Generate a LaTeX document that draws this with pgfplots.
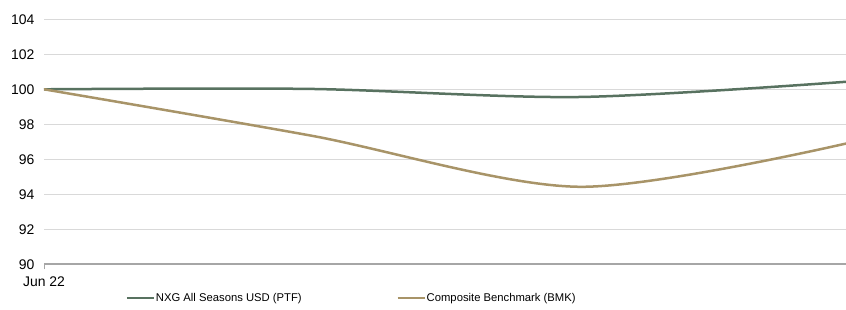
\documentclass[border=0pt]{standalone}
\usepackage{pgfplots}
\pgfplotsset{compat=1.18}
\usepackage{fontspec}
\setmainfont{Liberation Sans}
\definecolor{ptf}{HTML}{587260}
\definecolor{bmk}{HTML}{A89468}
\definecolor{gridc}{HTML}{D9D9D9}
\definecolor{axc}{HTML}{A6A6A6}
\begin{document}
\begin{tikzpicture}[x=1bp,y=1bp]
\begin{axis}[
  at={(44bp,44.7bp)}, anchor=south west,
  scale only axis, width=802bp, height=245bp,
  xmin=0, xmax=3, ymin=90, ymax=104,
  ytick={90,92,...,104},
  xtick={0}, xticklabels={Jun 22},
  tick pos=left, tick align=outside,
  ymajorgrids, grid style={gridc, line width=1bp},
  axis line style={draw=none},
  ytick style={draw=none},
  xtick style={axc, line width=1bp},
  major tick length=5bp,
  y tick label style={font=\fontsize{14}{16}\selectfont, xshift=-1bp},
  x tick label style={font=\fontsize{14}{16}\selectfont, yshift=-4bp},
  /pgf/number format/assume math mode=true,
  legend style={draw=none, fill=none, inner sep=0pt, outer sep=0pt,
    at={(rel axis cs:0.1022,-0.137)}, anchor=west,
    font=\fontsize{11.3}{13}\selectfont,
    nodes={inner xsep=1bp},
    /tikz/every even column/.append style={column sep=94bp}},
  legend columns=2,
  legend cell align=left,
  legend image code/.code={\draw[#1, line width=2bp] (0bp,0bp) -- (27bp,0bp);},
  clip=false,
]
\draw[axc, line width=2bp] (rel axis cs:0,0) -- (rel axis cs:1,0);
\addplot[ptf, line width=2.5bp, smooth, tension=0.5] coordinates {
  (0,100) (1,100.02) (2,99.56) (3,100.43)
};
\addlegendentry{NXG All Seasons USD (PTF)}
\addplot[bmk, line width=2.5bp, smooth, tension=0.5] coordinates {
  (0,100) (1,97.35) (2,94.43) (3,96.9)
};
\addlegendentry{Composite Benchmark (BMK)}
\end{axis}
\pgfresetboundingbox
\path[use as bounding box] (0,0) rectangle (846,309);
\end{tikzpicture}
\end{document}
